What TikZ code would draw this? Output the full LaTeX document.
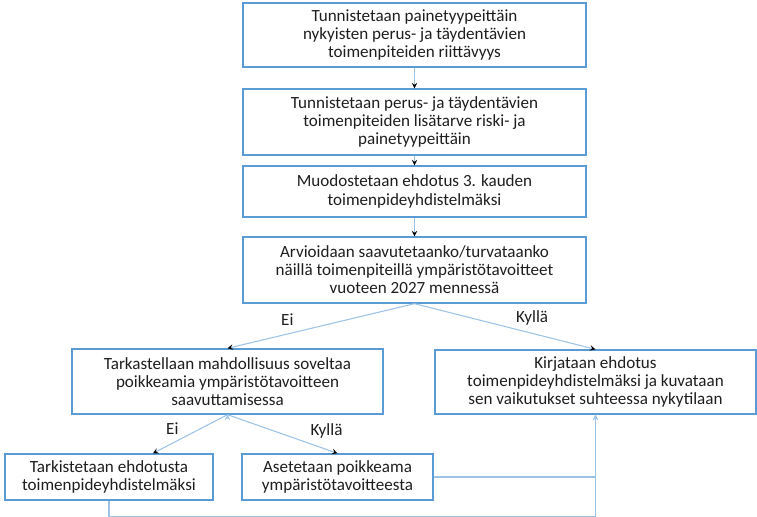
\documentclass[tikz,border=0pt]{standalone}
\usepackage{fontspec}
\setmainfont{Carlito}
\usepackage{tikz}
\usetikzlibrary{calc}

\definecolor{boxblue}{HTML}{5B9BD5}
\definecolor{linkblue}{HTML}{9DC3E6}
\definecolor{textdark}{HTML}{1E1E1E}

\tikzset{
  stagebox/.style={draw=boxblue, line width=1pt, align=center, inner sep=2pt,
    text=textdark, font=\fontsize{12.8}{13.6}\selectfont},
  answer/.style={text=textdark, font=\fontsize{12.8}{13.6}\selectfont},
  link/.style={draw=linkblue, line width=0.8pt, -stealth}
}

\begin{document}
\begin{tikzpicture}[x=0.75pt,y=-0.75pt]
  \useasboundingbox (0,0) rectangle (757,517);
  \node (b1) [stagebox,minimum width=257.25pt,minimum height=48pt] at (414.5,35)
    {Tunnistetaan painetyypeittäin\\nykyisten perus- ja täydentävien\\toimenpiteiden riittävyys};
  \node (b2) [stagebox,minimum width=257.25pt,minimum height=49.5pt] at (414.5,122)
    {Tunnistetaan perus- ja täydentävien\\toimenpiteiden lisätarve riski- ja\\painetyypeittäin};
  \node (b3) [stagebox,minimum width=257.25pt,minimum height=38.25pt] at (414.5,191.5)
    {Muodostetaan ehdotus 3. kauden\\toimenpideyhdistelmäksi};
  \node (b4) [stagebox,minimum width=257.25pt,minimum height=49.5pt] at (414.5,270)
    {Arvioidaan saavutetaanko/turvataanko\\näillä toimenpiteillä ympäristötavoitteet\\vuoteen 2027 mennessä};
  \node (b5) [stagebox,minimum width=233.25pt,minimum height=48.75pt] at (227.5,381.5)
    {Tarkastellaan mahdollisuus soveltaa\\poikkeamia ympäristötavoitteen\\saavuttamisessa};
  \node (b6) [stagebox,minimum width=240.75pt,minimum height=48pt] at (595.5,382)
    {Kirjataan ehdotus\\toimenpideyhdistelmäksi ja kuvataan\\sen vaikutukset suhteessa nykytilaan};
  \node (b7) [stagebox,minimum width=156pt,minimum height=34.5pt] at (109,477)
    {Tarkistetaan ehdotusta\\toimenpideyhdistelmäksi};
  \node (b8) [stagebox,minimum width=143.25pt,minimum height=34.5pt] at (337.5,477)
    {Asetetaan poikkeama\\ympäristötavoitteesta};
  \coordinate (b7in) at ($(b7.north west)!0.71!(b7.north east)$);
  \path[link]
    (b1) edge (b2)
    (b2) edge (b3)
    (b3) edge (b4)
    (b4.south) edge node [answer,pos=0.68,above=3pt] {Ei}    (b5.north)
               edge node [answer,pos=0.65,above=2pt] {Kyllä} (b6.north)
    (b5.south) edge node [answer,pos=0.74,above=2.5pt] {Ei}  (b7in)
               edge node [answer,pos=0.9,above=5pt] {Kyllä}  (b8.north);
  \draw[link] (b8.east) -| (b6.south);
  \draw[link] (b7.south) -- ++(0,16) -| (b6.south);
\end{tikzpicture}
\end{document}
